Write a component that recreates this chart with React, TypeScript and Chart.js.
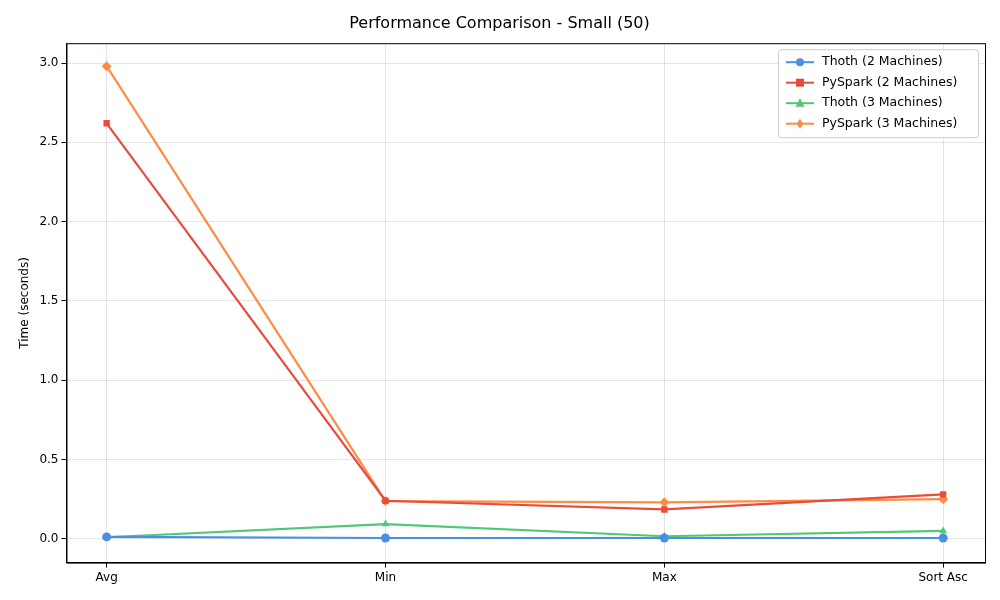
import { useEffect, useRef } from 'react'
import { Chart, registerables } from 'chart.js'

Chart.register(...registerables)

const categories = ['Avg', 'Min', 'Max', 'Sort Asc']
const thoth2 = [0.012, 0.005, 0.005, 0.005]
const pyspark2 = [2.62, 0.24, 0.185, 0.28]
const thoth3 = [0.01, 0.093, 0.016, 0.05]
const pyspark3 = [2.98, 0.238, 0.23, 0.25]
const yTicks = [0, 0.5, 1.0, 1.5, 2.0, 2.5, 3.0]

const seriesList = [
  { label: 'Thoth (2 Machines)', data: thoth2, color: '#4a90e2', style: 'circle' },
  { label: 'PySpark (2 Machines)', data: pyspark2, color: '#e74c3c', style: 'rect' },
  { label: 'Thoth (3 Machines)', data: thoth3, color: '#50c878', style: 'triangle' },
  { label: 'PySpark (3 Machines)', data: pyspark3, color: '#ff8c42', style: 'rectRot' },
]

const font = 'DejaVu Sans'

// full frame around the plot area plus legend inside, top right
const innerLegend = {
  id: 'innerLegend',
  afterDraw(chart: Chart) {
    const { ctx, chartArea } = chart
    ctx.save()
    ctx.strokeStyle = '#000'
    ctx.lineWidth = 1
    ctx.strokeRect(chartArea.left + 0.5, chartArea.top + 0.5, chartArea.right - chartArea.left, chartArea.bottom - chartArea.top)
    const w = 200, h = 88
    const x = chartArea.right - w - 7, y = chartArea.top + 6
    ctx.fillStyle = 'rgba(255,255,255,0.85)'
    ctx.strokeStyle = '#cccccc'
    ctx.beginPath()
    ctx.roundRect(x + 0.5, y + 0.5, w, h, 3)
    ctx.fill()
    ctx.stroke()
    ctx.font = `12.5px "${font}"`
    ctx.textBaseline = 'middle'
    seriesList.forEach((s, i) => {
      const cy = y + 13 + i * 20.5
      ctx.strokeStyle = s.color
      ctx.lineWidth = 2
      ctx.beginPath()
      ctx.moveTo(x + 8, cy)
      ctx.lineTo(x + 36, cy)
      ctx.stroke()
      ctx.fillStyle = s.color
      const cx = x + 22
      ctx.beginPath()
      if (s.style === 'circle') ctx.arc(cx, cy, 4, 0, Math.PI * 2)
      else if (s.style === 'rect') ctx.rect(cx - 4, cy - 4, 8, 8)
      else if (s.style === 'triangle') { ctx.moveTo(cx, cy - 5); ctx.lineTo(cx + 4.5, cy + 3.5); ctx.lineTo(cx - 4.5, cy + 3.5); ctx.closePath() }
      else { ctx.moveTo(cx, cy - 5); ctx.lineTo(cx + 3.5, cy); ctx.lineTo(cx, cy + 5); ctx.lineTo(cx - 3.5, cy); ctx.closePath() }
      ctx.fill()
      ctx.fillStyle = '#000'
      ctx.fillText(s.label, x + 44, cy)
    })
    ctx.restore()
  },
}

export default function App() {
  const canvasRef = useRef<HTMLCanvasElement>(null)

  useEffect(() => {
    document.body.style.margin = '0'
    if (!canvasRef.current) return
    const chart = new Chart(canvasRef.current, {
      type: 'line',
      data: {
        datasets: seriesList.map((s) => ({
          label: s.label,
          data: s.data.map((v, i) => ({ x: i, y: v })),
          borderColor: s.color,
          backgroundColor: s.color,
          borderWidth: 2.2,
          pointStyle: s.style as any,
          pointRadius: s.style === 'rectRot' ? 5 : 4.5,
          pointBorderWidth: 0,
          tension: 0,
        })),
      },
      options: {
        animation: false,
        responsive: false,
        layout: { padding: { left: 14, right: 15, top: 0, bottom: 12 } },
        plugins: {
          legend: { display: false },
          tooltip: { enabled: false },
          title: {
            display: true,
            text: 'Performance Comparison - Small (50)',
            color: '#000',
            font: { family: font, size: 16, weight: 'normal' },
            padding: { top: 14, bottom: 10 },
          },
        },
        scales: {
          x: {
            type: 'linear',
            min: -0.144,
            max: 3.15,
            afterBuildTicks: (axis) => { axis.ticks = categories.map((_, i) => ({ value: i })) },
            ticks: {
              color: '#000',
              font: { family: font, size: 12 },
              callback: (v) => categories[Number(v)] ?? '',
            },
            grid: { color: 'rgba(0,0,0,0.1)', tickColor: '#000', tickLength: 5 },
            border: { color: '#000' },
          },
          y: {
            min: -0.15,
            max: 3.125,
            afterBuildTicks: (axis) => { axis.ticks = yTicks.map((v) => ({ value: v })) },
            ticks: {
              color: '#000',
              font: { family: font, size: 12 },
              callback: (v) => Number(v).toFixed(1),
            },
            title: { display: true, text: 'Time (seconds)', color: '#000', font: { family: font, size: 12 } },
            grid: { color: 'rgba(0,0,0,0.1)', tickColor: '#000', tickLength: 5 },
            border: { color: '#000' },
          },
        },
      },
      plugins: [innerLegend],
    })
    return () => chart.destroy()
  }, [])

  return <canvas ref={canvasRef} width={1000} height={600} style={{ display: 'block' }} />
}
